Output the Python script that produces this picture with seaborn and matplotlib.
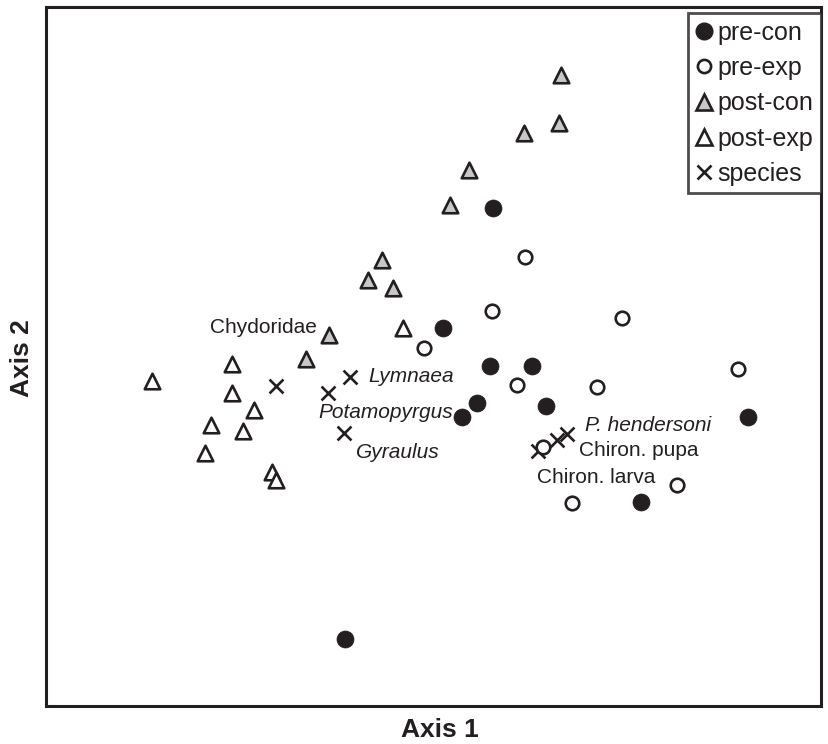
import pandas as pd
import matplotlib.pyplot as plt
import seaborn as sns
from matplotlib.lines import Line2D

sns.set_theme(style="white")
plt.rcParams["font.family"] = ["Liberation Sans", "DejaVu Sans"]

INK = "#231f20"
GREY = "#c8c8c8"

# ordination scores (axis 1, axis 2)
pre_con_x = [57.7, 51.2, 57.3, 62.7, 55.6, 53.7, 64.5, 90.6, 76.8, 38.6]
pre_con_y = [71.2, 54.1, 48.6, 48.6, 43.3, 41.3, 42.9, 41.3, 29.2, 9.6]

pre_exp_x = [61.8, 57.5, 74.3, 48.8, 60.8, 71.1, 89.3, 64.1, 67.9, 81.4]
pre_exp_y = [64.2, 56.5, 55.5, 51.2, 45.9, 45.6, 48.2, 37.1, 29.0, 31.6]

post_con_x = [66.5, 66.2, 61.7, 54.6, 52.1, 43.4, 41.5, 44.8, 36.5, 33.5]
post_con_y = [90.3, 83.4, 82.0, 76.7, 71.7, 63.8, 60.9, 59.8, 53.1, 49.6]

post_exp_x = [46.1, 13.7, 24.0, 24.0, 26.8, 21.3, 25.4, 20.5, 29.2, 29.7]
post_exp_y = [54.1, 46.5, 48.9, 44.8, 42.3, 40.2, 39.3, 36.2, 33.5, 32.3]

species_names = ["", "Potamopyrgus", "Lymnaea", "Gyraulus",
                 "Chiron. larva", "Chiron. pupa", "P. hendersoni"]
species_x = [29.7, 36.4, 39.2, 38.5, 63.5, 65.9, 67.2]
species_y = [45.8, 44.8, 47.1, 39.1, 36.5, 38.1, 38.9]

# Chydoridae sits under a post-con triangle, only its label shows
hidden_name = "Chydoridae"
hidden_x, hidden_y = 36.5, 53.1

# label placement (offset in points, horizontal alignment, italic)
LABEL_STYLE = {
    "Chydoridae": ((-9, 5), "right", False),
    "Potamopyrgus": ((-7, -14), "left", True),
    "Lymnaea": ((13, 0), "left", True),
    "Gyraulus": ((8, -14), "left", True),
    "Chiron. larva": ((-1, -19), "left", False),
    "Chiron. pupa": ((16, -8), "left", False),
    "P. hendersoni": ((13, 6.5), "left", True),
}

fig = plt.figure(figsize=(8.29, 7.44), dpi=100)
ax = fig.add_axes([0.0555, 0.051, 0.935, 0.9396])

sp = pd.DataFrame({"x": species_x, "y": species_y, "name": species_names})
sns.scatterplot(data=sp, x="x", y="y", ax=ax, marker="x", s=100,
                color=INK, linewidth=1.9, zorder=2)

groups = [
    (pre_con_x, pre_con_y, dict(marker="o", s=150, facecolor=INK, edgecolor=INK, linewidth=0.5)),
    (pre_exp_x, pre_exp_y, dict(marker="o", s=95, facecolor="white", edgecolor=INK, linewidth=1.9)),
    (post_con_x, post_con_y, dict(marker="^", s=125, facecolor=GREY, edgecolor=INK, linewidth=1.9)),
    (post_exp_x, post_exp_y, dict(marker="^", s=125, facecolor="white", edgecolor=INK, linewidth=1.9)),
]
for gx, gy, kw in groups:
    sns.scatterplot(x=gx, y=gy, ax=ax, zorder=3, **kw)

for name, x, y in zip(species_names + [hidden_name],
                      species_x + [hidden_x], species_y + [hidden_y]):
    if not name:
        continue
    off, ha, ital = LABEL_STYLE[name]
    ax.annotate(name, (x, y), xytext=off, textcoords="offset points",
                ha=ha, va="center", fontsize=15, color=INK,
                style="italic" if ital else "normal", zorder=4)

ax.set_xlim(0, 100)
ax.set_ylim(0, 100)
ax.set_xticks([])
ax.set_yticks([])
ax.set_xlabel("")
ax.set_ylabel("")
for s in ax.spines.values():
    s.set_color(INK)
    s.set_linewidth(2.2)

fig.text(0.531, 0.019, "Axis 1", ha="center", va="center",
         fontsize=19, fontweight="bold", color=INK)
fig.text(0.026, 0.518, "Axis 2", ha="center", va="center", rotation=90,
         fontsize=19, fontweight="bold", color=INK)

handles = [
    Line2D([], [], ls="none", marker="o", ms=12, mfc=INK, mec=INK),
    Line2D([], [], ls="none", marker="o", ms=9.5, mfc="white", mec=INK, mew=1.9),
    Line2D([], [], ls="none", marker="^", ms=11, mfc=GREY, mec=INK, mew=1.9),
    Line2D([], [], ls="none", marker="^", ms=11, mfc="white", mec=INK, mew=1.9),
    Line2D([], [], ls="none", marker="x", ms=10, mec=INK, mew=1.9),
]
labels = ["pre-con", "pre-exp", "post-con", "post-exp", "species"]
leg = ax.legend(handles, labels, loc="upper right", bbox_to_anchor=(1.0, 0.991),
                borderaxespad=0, fontsize=18, frameon=True, fancybox=False,
                handlelength=0.7, handletextpad=0.2, labelspacing=0.45,
                borderpad=0.3)
leg.get_frame().set_edgecolor(INK)
leg.get_frame().set_linewidth(2.0)
for t in leg.get_texts():
    t.set_color(INK)

fig.savefig("out.png", dpi=100)
